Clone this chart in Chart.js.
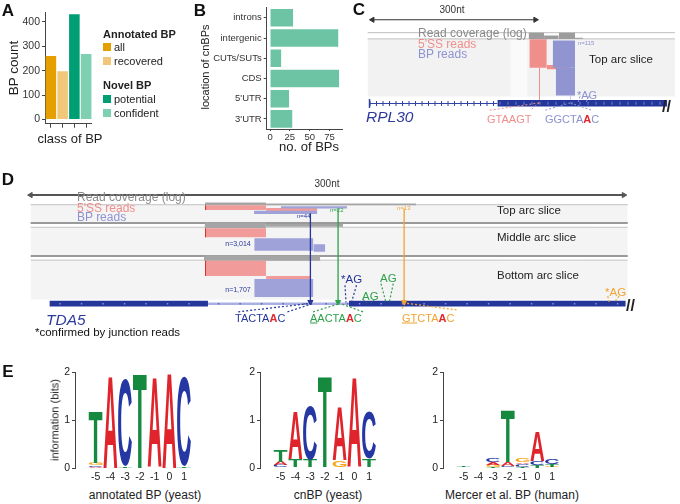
<!DOCTYPE html>
<html><head><meta charset="utf-8">
<script src="https://cdn.jsdelivr.net/npm/chart.js@4.4.1/dist/chart.umd.min.js"></script>
<style>
body{margin:0;background:#fff;}
#wrap{position:relative;width:680px;height:504px;overflow:hidden;font-family:"Liberation Sans",Arial,sans-serif;color:#222;}
canvas{position:absolute;}
.t{position:absolute;white-space:nowrap;line-height:1;}
.sw{position:absolute;width:8px;height:8px;}
</style></head><body><div id="wrap"></div>
<script>
// ---------------- DATA ----------------
// Panel A
const classLabels = ['all', 'recovered', 'potential', 'confident'];
const classCounts = [260, 198, 431, 268];
// Panel B
const locLabels = ['introns', 'intergenic', 'CUTs/SUTs', 'CDS', "5'UTR", "3'UTR"];
const locCounts = [29, 86, 14, 87, 24, 28];
// Panel E (letter, height in bits) bottom -> top
const logoPositions = [-5, -4, -3, -2, -1, 0, 1];
const logoAnnotated = [
  [['A', 0.03], ['C', 0.03], ['G', 0.05], ['T', 1.08]],
  [['G', 0.01], ['A', 1.93]],
  [['T', 0.03], ['C', 1.80]],
  [['T', 1.98]],
  [['G', 0.02], ['A', 1.88]],
  [['A', 1.98]],
  [['T', 0.03], ['C', 1.86]]
];
const logoCnBP = [
  [['G', 0.02], ['C', 0.04], ['A', 0.07], ['T', 0.25]],
  [['G', 0.02], ['T', 0.17], ['A', 1.00]],
  [['A', 0.02], ['T', 0.15], ['C', 1.13]],
  [['C', 0.02], ['T', 1.90]],
  [['T', 0.02], ['G', 0.14], ['A', 1.12]],
  [['G', 0.02], ['A', 1.87]],
  [['G', 0.02], ['T', 0.17], ['C', 1.00]]
];
const logoMercer = [
  [['C', 0.02], ['T', 0.03]],
  [],
  [['T', 0.03], ['G', 0.04], ['A', 0.05], ['C', 0.08]],
  [['G', 0.02], ['C', 0.03], ['A', 0.07], ['T', 1.07]],
  [['T', 0.03], ['C', 0.06], ['A', 0.03], ['G', 0.07]],
  [['T', 0.07], ['C', 0.08], ['A', 0.62]],
  [['G', 0.03], ['T', 0.06], ['C', 0.10]]
];
// Panel C (RPL30): x in nt, y in track rows
const cRuler = [0, 300];
const cPanelBg = [[-8.9, 557, 37, 99]];
const cLightBand = [[253.6, 285.7, 37, 99]];
const cTrackLines = [30, 36.7];
const cCoverage = [[287.5, 316, 30, 36.7], [316, 343, 33, 36.7], [343, 373, 30, 36.7], [373, 387.5, 35.5, 36.7]];
const cSSReads = [[289, 321, 37, 68], [321, 345, 65, 69.5], [345, 364, 67, 70.5], [306.5, 308.5, 68, 106]];
const cBPReads = [[332, 373, 38.5, 68], [337.5, 373, 68, 98], [363.5, 365, 98, 106]];
const cIntron = [-5.4, 230, 106.7];
const cExon = [[230, 543, 103, 110]];
const cSSLinks = [[307.1, 106, 216.1, 114], [307.1, 106, 291.1, 114]];
const cBPLinks = [[364.3, 106, 317.9, 114], [364.3, 106, 403.6, 114], [382.1, 99, 379, 105], [398, 99, 394, 105]];
// Panel D (TDA5)
const dRuler = [0, 300];
const dSliceBg = [[0, 302, 21, 40], [0, 302, 45, 75], [0, 302, 80, 122]];
const dThinLines = [21, 45, 80];
const dThickLines = [40.5, 75.5];
const dCoverage = [[88.2, 119, 18.5, 21.5], [119, 195, 19.8, 21.5], [88, 119, 40, 46], [119, 158, 41.5, 44.5], [87.7, 146.5, 75, 80.7]];
const dSSReads = [[88.2, 119.1, 21.5, 26.5], [119.1, 145, 24.5, 28], [88.2, 119.1, 46, 55.7], [88.2, 119.1, 80.7, 97], [119.1, 141.5, 97, 100.7]];
const dSSEdges = [[88.2, 88.8, 21.5, 26.5], [88.2, 88.8, 46, 55.7], [88.2, 88.8, 80.7, 97]];
const dBPReads = [[126.6, 160, 22.5, 25], [113, 145, 27.5, 31], [113.1, 143, 56.7, 70], [143, 149, 63, 71], [113.1, 143, 100, 119.3]];
const dArrowX = [141.5, 155.5, 188.9];
const dArrowTop = [30, 25, 25];
const dArrowEnd = 124.5;
const dExons = [[9.5, 89.7, 123.3, 129.3], [161, 301, 123.3, 129.3]];
const dIntron = [89.7, 161, 126.3];
const dNavyLinks = [[105, 135, 141.6, 126], [129.9, 135, 143, 126], [159, 106.7, 159.5, 125], [164.8, 106.7, 162.3, 125]];
const dGreenLinks = [[142.9, 135, 155.6, 126.7], [168.1, 135, 157.3, 126.7], [168.1, 121.7, 169.8, 125], [173.9, 121.7, 172.3, 125], [177.2, 105, 179.7, 125], [183.4, 105, 181.4, 125]];
const dOrangeLinks = [[189.4, 126, 187.4, 133], [190.4, 126, 215.4, 133], [291.9, 118.3, 292.6, 125], [297.6, 118.3, 295.1, 125]];

// ---------------- STYLE / HELPERS ----------------
const wrap = document.getElementById('wrap');
Chart.defaults.font.family = '"Liberation Sans", Arial, sans-serif';
Chart.defaults.color = '#333';
const base = {responsive: false, animation: false, events: [], devicePixelRatio: 1,
  plugins: {legend: {display: false}, tooltip: {enabled: false}}};
const classColors = ['#e69f00', '#f1c77a', '#009e73', '#7fcfb1'];
const letterColors = {A: '#e0242b', C: '#2437a3', G: '#f6a81d', T: '#158a3f'};
const PINK = '#f19c9a', LAV = '#9ea2d8', GRAY = '#a5a5a5', NAVY = '#25369a';
const GREEN = '#2ea24a', ORANGE = '#f2a431';

function mkCanvas(left, top, w, h) {
  const c = document.createElement('canvas');
  c.width = w; c.height = h;
  c.style.left = left + 'px'; c.style.top = top + 'px';
  c.style.width = w + 'px'; c.style.height = h + 'px';
  wrap.appendChild(c); return c;
}
function txt(s, x, y, o = {}) {
  const d = document.createElement('div');
  d.className = 't'; d.innerHTML = s;
  d.style.left = x + 'px'; d.style.top = y + 'px';
  d.style.fontSize = (o.size || 11) + 'px';
  if (o.color) d.style.color = o.color;
  if (o.bold) d.style.fontWeight = 'bold';
  if (o.italic) d.style.fontStyle = 'italic';
  const tx = o.align === 'center' ? '-50%' : o.align === 'right' ? '-100%' : '0';
  d.style.transform = `translate(${tx},-50%)` + (o.rot ? ` rotate(${o.rot}deg)` : '');
  d.style.zIndex = 5;
  wrap.appendChild(d);
}
function swatch(x, y, c) {
  const d = document.createElement('div'); d.className = 'sw';
  d.style.left = x + 'px'; d.style.top = y + 'px'; d.style.background = c; wrap.appendChild(d);
}

// ---------------- PANEL A ----------------
new Chart(mkCanvas(0, 0, 92, 132), {
  type: 'bar',
  data: {labels: classLabels, datasets: [{data: classCounts, backgroundColor: classColors, categoryPercentage: 1, barPercentage: 0.9}]},
  options: {...base, layout: {padding: {top: 12}},
    scales: {
      x: {grid: {drawOnChartArea: false, offset: false, tickLength: 4, color: '#444'}, border: {color: '#444'},
          ticks: {display: false}, afterFit: a => { a.height = 5; }},
      y: {min: -17, max: 440, grid: {drawOnChartArea: false, tickLength: 3, color: '#444'}, border: {color: '#444'},
          ticks: {stepSize: 100, includeBounds: false, font: {size: 10.5}, color: '#333', padding: 2},
          afterFit: a => { a.width = 45; }}
    }}
});

// ---------------- PANEL B ----------------
new Chart(mkCanvas(210, 0, 133, 143), {
  type: 'bar',
  data: {labels: locLabels, datasets: [{data: locCounts, backgroundColor: '#6cc4a4', categoryPercentage: 1, barPercentage: 0.87}]},
  options: {...base, indexAxis: 'y', layout: {padding: {top: 7}},
    scales: {
      x: {min: -4.2, max: 92, grid: {drawOnChartArea: false, tickLength: 2, color: '#444'}, border: {color: '#444'},
          ticks: {stepSize: 25, includeBounds: false, font: {size: 9.5}, color: '#333', padding: 1, maxRotation: 0},
          afterFit: a => { a.height = 14; }},
      y: {grid: {drawOnChartArea: false, offset: false, tickLength: 3, color: '#444'}, border: {color: '#444'},
          ticks: {font: {size: 9.5}, color: '#333', padding: 2}, afterFit: a => { a.width = 56.7; }}
    }}
});

// ---------------- TRACK HELPERS (C, D) ----------------
function rectDs(b, color) {
  return {data: [{x: b[0], y: b[2]}, {x: b[1], y: b[2]}], borderColor: 'rgba(0,0,0,0)', borderWidth: 0,
    pointRadius: 0, fill: {value: b[3]}, backgroundColor: color};
}
function segDs(s, color, width, dash) {
  return {data: [{x: s[0], y: s[1]}, {x: s[2], y: s[3]}], borderColor: color, borderWidth: width,
    borderDash: dash || [], pointRadius: 0, fill: false};
}
function arrowDs(s, color, width, r, rotStart, rotEnd) {
  return {data: [{x: s[0], y: s[1]}, {x: s[2], y: s[3]}], borderColor: color, borderWidth: width, fill: false,
    pointRadius: [rotStart == null ? 0 : r, rotEnd == null ? 0 : r], pointStyle: 'triangle',
    pointRotation: [rotStart || 0, rotEnd || 0], pointBackgroundColor: color, pointBorderColor: color, pointBorderWidth: 1};
}
function trackChart(canvas, xmin, xmax, ymax, layers) {
  return new Chart(canvas, {type: 'line', data: {datasets: layers.slice().reverse()},
    options: {...base, layout: {padding: 0}, elements: {line: {tension: 0}},
      scales: {x: {type: 'linear', min: xmin, max: xmax, display: false},
               y: {type: 'linear', min: 0, max: ymax, reverse: true, display: false}}}});
}

// ---------------- PANEL C ----------------
const cLayers = [];
cPanelBg.forEach(b => cLayers.push(rectDs(b, '#f2f2f2')));
cLightBand.forEach(b => cLayers.push(rectDs(b, '#fafafa')));
cTrackLines.forEach(y => cLayers.push(segDs([cPanelBg[0][0], y, cPanelBg[0][1], y], '#bdbdbd', 1)));
cCoverage.forEach(b => cLayers.push(rectDs(b, '#9d9d9d')));
cSSReads.forEach(b => cLayers.push(rectDs(b, '#f08e8c')));
cBPReads.forEach(b => cLayers.push(rectDs(b, '#9095d2')));
cLayers.push(segDs([cIntron[0], cIntron[2], cIntron[1], cIntron[2]], '#3243a3', 1.2));
cLayers.push(segDs([cIntron[0], cIntron[2], cIntron[1], cIntron[2]], '#3243a3', 5, [1, 5.5]));
cLayers.push(segDs([cIntron[0], cIntron[2] - 5, cIntron[0], cIntron[2] + 5], '#3243a3', 1.5));
cExon.forEach(b => cLayers.push(rectDs(b, NAVY)));
cExon.forEach(b => cLayers.push(segDs([b[0] + 4, (b[2] + b[3]) / 2, b[1], (b[2] + b[3]) / 2], '#6f80d0', 3, [1, 7])));
cSSLinks.forEach(s => cLayers.push(segDs(s, '#f08e8c', 1, [2, 2])));
cBPLinks.forEach(s => cLayers.push(segDs(s, '#8c91cf', 1, [2, 2])));
cLayers.push(arrowDs([cRuler[0], 16, cRuler[1], 16], '#333', 1.2, 3, -90, 90));
trackChart(mkCanvas(350, 0, 330, 130), -32.14, 557.14, 130, cLayers);

// ---------------- PANEL D ----------------
const dLayers = [];
dSliceBg.forEach(b => dLayers.push(rectDs(b, '#f4f4f4')));
dThinLines.forEach(y => dLayers.push(segDs([dSliceBg[0][0], y, dSliceBg[0][1], y], '#c2c2c2', 1)));
dThickLines.forEach(y => dLayers.push(segDs([dSliceBg[0][0], y, dSliceBg[0][1], y], '#9a9a9a', 2)));
dCoverage.forEach(b => dLayers.push(rectDs(b, GRAY)));
dSSReads.forEach(b => dLayers.push(rectDs(b, PINK)));
dSSEdges.forEach(b => dLayers.push(rectDs(b, '#d8302c')));
dBPReads.forEach(b => dLayers.push(rectDs(b, LAV)));
dLayers.push(segDs([dIntron[0], dIntron[2], dIntron[1], dIntron[2]], '#aab0e2', 2.5));
dLayers.push(segDs([dIntron[0] + 5, dIntron[2], dIntron[1], dIntron[2]], '#5664bb', 1.5, [1.5, 20]));
dExons.forEach(b => dLayers.push(rectDs(b, NAVY)));
dExons.forEach(b => dLayers.push(segDs([b[0] + 5, (b[2] + b[3]) / 2, b[1], (b[2] + b[3]) / 2], '#8391dc', 1.5, [1.5, 20])));
dNavyLinks.forEach(s => dLayers.push(segDs(s, NAVY, 1.2, [2, 2])));
dGreenLinks.forEach(s => dLayers.push(segDs(s, GREEN, 1.2, [2, 2])));
dOrangeLinks.forEach(s => dLayers.push(segDs(s, ORANGE, 1.2, [2, 2])));
const arrowColors = [NAVY, GREEN, ORANGE];
dArrowX.forEach((x, i) => dLayers.push(arrowDs([x, dArrowTop[i], x, dArrowEnd], arrowColors[i], 1.3, 3, null, 180)));
dLayers.push(arrowDs([dRuler[0], 10.7, dRuler[1], 10.7], '#555', 2, 3, -90, 90));
trackChart(mkCanvas(0, 180, 680, 165), -12.96, 325.9, 165, dLayers);

// ---------------- PANEL E (sequence logos) ----------------
function drawGlyph(ctx, L, left, top, w, h, color) {
  ctx.save();
  ctx.font = 'bold 100px "Liberation Sans", Arial, sans-serif';
  const m = ctx.measureText(L);
  const gl = m.actualBoundingBoxLeft, gr = m.actualBoundingBoxRight;
  const ga = m.actualBoundingBoxAscent, gd = m.actualBoundingBoxDescent;
  ctx.translate(left, top);
  ctx.scale(w / (gl + gr), h / (ga + gd));
  ctx.fillStyle = color; ctx.textBaseline = 'alphabetic'; ctx.textAlign = 'left';
  ctx.fillText(L, gl, ga);
  ctx.restore();
}
const logoPlugin = {
  id: 'logoLetters',
  afterDatasetsDraw(chart) {
    const ctx = chart.ctx;
    chart.data.datasets.forEach((ds, di) => {
      chart.getDatasetMeta(di).data.forEach((el, i) => {
        const L = ds.letters[i];
        if (!L || !ds.data[i].y) return;
        const p = el.getProps(['x', 'y', 'base', 'width'], true);
        const top = Math.min(p.y, p.base), h = Math.abs(p.base - p.y);
        if (h < 0.4) return;
        drawGlyph(ctx, L, p.x - p.width / 2, top, p.width, h, letterColors[L]);
      });
    });
  }
};
function logoChart(left, stacks) {
  const datasets = [];
  for (let k = 0; k < 4; k++) {
    datasets.push({
      data: logoPositions.map((p, i) => ({x: p, y: stacks[i][k] ? stacks[i][k][1] : 0})),
      letters: logoPositions.map((p, i) => stacks[i][k] ? stacks[i][k][0] : null),
      backgroundColor: 'rgba(0,0,0,0)', categoryPercentage: 1, barPercentage: 0.94
    });
  }
  new Chart(mkCanvas(left, 360, 162, 125), {
    type: 'bar', data: {datasets}, plugins: [logoPlugin],
    options: {...base, layout: {padding: {top: 12}},
      scales: {
        x: {type: 'linear', stacked: true, min: -5.785, max: 1.6, grid: {display: false, drawTicks: false}, border: {display: false},
            ticks: {stepSize: 1, includeBounds: false, autoSkip: false, maxRotation: 0, font: {size: 10.5}, color: '#222', padding: 3,
                    callback: v => Number.isInteger(v) ? String(v) : ''},
            afterFit: a => { a.height = 17; }},
        y: {stacked: true, min: 0, max: 2, grid: {drawOnChartArea: false, tickLength: 3, color: '#444'}, border: {color: '#444'},
            ticks: {stepSize: 1, font: {size: 10.5}, color: '#222', padding: 2}, afterFit: a => { a.width = 35; }}
      }}
  });
}
logoChart(40, logoAnnotated);
logoChart(225, logoCnBP);
logoChart(408, logoMercer);

// ---------------- TEXT ----------------
const R = '<span style="color:#e3262d;font-weight:bold">A</span>';
txt('A', 8, 10, {size: 17, bold: true, align: 'center', color: '#111'});
txt('B', 200, 10, {size: 17, bold: true, align: 'center', color: '#111'});
txt('C', 359, 9, {size: 17, bold: true, align: 'center', color: '#111'});
txt('D', 8, 179, {size: 17, bold: true, align: 'center', color: '#111'});
txt('E', 8, 371, {size: 17, bold: true, align: 'center', color: '#111'});
// A
txt('BP count', 14, 68, {size: 13.5, align: 'center', rot: -90});
txt('class of BP', 70, 138, {size: 13, align: 'center'});
txt('Annotated BP', 103, 34, {size: 11, bold: true});
swatch(103, 43, classColors[0]); txt('all', 114, 47, {size: 11});
swatch(103, 57, classColors[1]); txt('recovered', 114, 61, {size: 11});
txt('Novel BP', 103, 85, {size: 11, bold: true});
swatch(103, 95, classColors[2]); txt('potential', 114, 99, {size: 11});
swatch(103, 109, classColors[3]); txt('confident', 114, 113, {size: 11});
// B
txt('location of cnBPs', 205, 67, {size: 11, align: 'center', rot: -90});
txt('no. of BPs', 309, 146, {size: 13, align: 'center'});
// C
txt('300nt', 452, 10, {size: 10, align: 'center', color: '#333'});
txt('Read coverage (log)', 418, 33, {size: 12, color: '#8a8a8a'});
txt("5'SS reads", 418, 43.5, {size: 12, color: '#f08e8c'});
txt('BP reads', 418, 53.5, {size: 12, color: '#8e93d1'});
txt('n=115', 578, 43, {size: 6, color: '#8e93d1'});
txt('Top arc slice', 589, 60, {size: 11.5, color: '#222'});
txt('RPL30', 366, 117, {size: 15.5, italic: true, color: '#2d3a9b'});
txt('GTAAGT', 487, 119, {size: 11, color: '#f08e8c'});
txt('GGCTA' + R + 'C', 545, 119, {size: 11, color: '#8c91cf'});
txt('*AG', 577, 95, {size: 11, color: '#8c91cf'});
txt('//', 662, 107, {size: 16, color: '#222', bold: true});
// D
txt('300nt', 327, 184, {size: 10, align: 'center', color: '#333'});
txt('Read coverage (log)', 77, 197, {size: 12, color: '#8a8a8a'});
txt("5'SS reads", 77, 207.5, {size: 12, color: '#f08e8c'});
txt('BP reads', 77, 217, {size: 12, color: '#8e93d1'});
txt('n=44', 297, 216, {size: 6, color: NAVY});
txt('n=22', 330, 210, {size: 6, color: GREEN});
txt('n=13', 397, 208, {size: 6, color: ORANGE});
txt('n=3,014', 238, 242.5, {size: 7, align: 'center', color: NAVY});
txt('n=1,707', 238, 289, {size: 7, align: 'center', color: NAVY});
txt('Top arc slice', 497, 211, {size: 11.5, color: '#222'});
txt('Middle arc slice', 497, 238, {size: 11.5, color: '#222'});
txt('Bottom arc slice', 497, 276, {size: 11.5, color: '#222'});
txt('TDA5', 46, 320, {size: 15.5, italic: true, color: '#2d3a9b'});
txt('*confirmed by junction reads', 35, 333, {size: 11.5, color: '#111'});
txt('TACTA' + R + 'C', 235, 318, {size: 11, color: NAVY});
txt('<u>A</u>ACTA' + R + 'C', 310, 318, {size: 11, color: GREEN});
txt('<u>GT</u>CTA' + R + 'C', 402, 318, {size: 11, color: ORANGE});
txt('*AG', 341, 280, {size: 11.5, color: NAVY});
txt('AG', 362, 297, {size: 11.5, color: GREEN});
txt('AG', 380, 279, {size: 11.5, color: GREEN});
txt('*AG', 605, 293, {size: 11.5, color: ORANGE});
txt('//', 626, 306, {size: 16, color: '#222', bold: true});
// E
txt('information (bits)', 55, 420, {size: 11, align: 'center', rot: -90});
txt('annotated BP (yeast)', 145, 495, {size: 12, align: 'center'});
txt('cnBP (yeast)', 328, 495, {size: 12, align: 'center'});
txt('Mercer et al. BP (human)', 512, 495, {size: 12, align: 'center'});
</script>
</body></html>
